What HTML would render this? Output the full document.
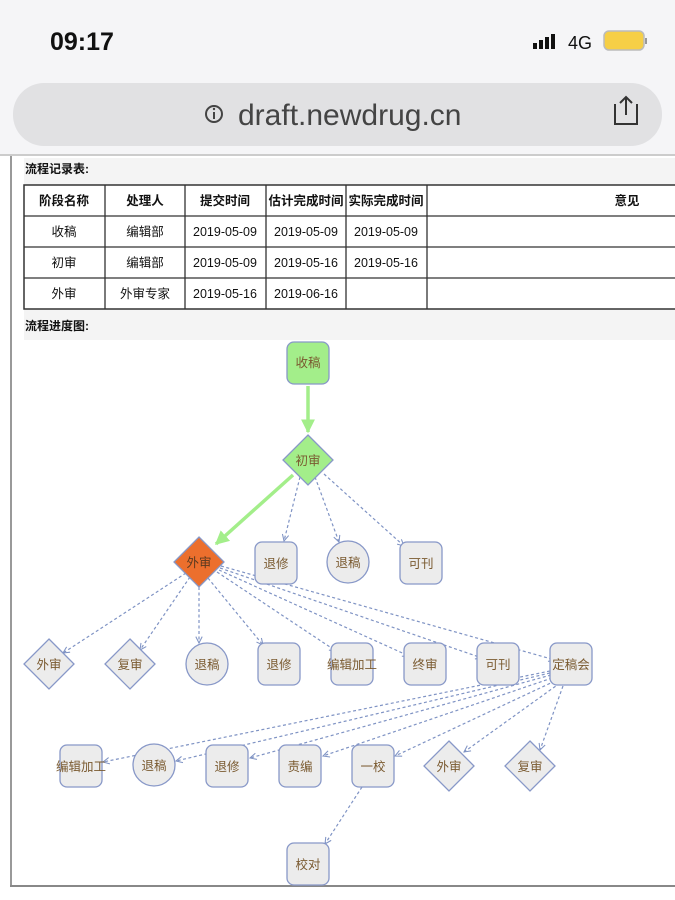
<!DOCTYPE html>
<html><head><meta charset="utf-8"><style>
html,body{margin:0;padding:0;width:675px;height:900px;overflow:hidden;background:#fff}
svg{display:block}
text{font-family:"Liberation Sans","Noto Sans CJK SC",sans-serif}
</style></head><body>
<svg width="675" height="900" viewBox="0 0 675 900" xmlns="http://www.w3.org/2000/svg">
<defs>
<marker id="a" viewBox="0 0 10 10" refX="9" refY="5" markerWidth="8" markerHeight="8" orient="auto" markerUnits="userSpaceOnUse"><polyline points="1,1 9,5 1,9" fill="none" stroke="#7f93c4" stroke-width="1.3"/></marker>
<marker id="g" viewBox="0 0 10 10" refX="9" refY="5" markerWidth="14" markerHeight="14" orient="auto" markerUnits="userSpaceOnUse"><polygon points="0,0 10,5 0,10" fill="#a3ee8a"/></marker>
</defs>
<rect width="675" height="155" fill="#f5f5f7"/>
<text x="50" y="50" font-size="25" font-weight="bold" fill="#111">09:17</text>
<rect x="533" y="43" width="4" height="6" fill="#111"/><rect x="539" y="40" width="4" height="9" fill="#111"/><rect x="545" y="37" width="4" height="12" fill="#111"/><rect x="551" y="34" width="4" height="15" fill="#111"/>
<text x="568" y="49" font-size="18" fill="#111">4G</text>
<rect x="604" y="31" width="40" height="19" rx="5" fill="#f6cf46" stroke="#bbb" stroke-width="1.5"/><rect x="645" y="38" width="2" height="6" fill="#999"/>
<rect x="13" y="83" width="649" height="63" rx="31" fill="#e1e1e3"/>
<circle cx="214" cy="114" r="8" fill="none" stroke="#444" stroke-width="2"/><rect x="213" y="112" width="2" height="7" fill="#444"/><circle cx="214" cy="109" r="1.2" fill="#444"/>
<text x="238" y="125" font-size="30" fill="#444">draft.newdrug.cn</text>
<path d="M615 104 v20 h22 v-20 M626 97 v18 M620 103 l6 -6 l6 6" fill="none" stroke="#333" stroke-width="2"/>
<rect x="0" y="154" width="675" height="2" fill="#ccc"/>
<rect x="12" y="156" width="663" height="730" fill="#fff"/>
<rect x="24" y="158" width="651" height="182" fill="#f4f4f4"/>
<rect x="10" y="156" width="2" height="731" fill="#999"/>
<rect x="10" y="885" width="665" height="2" fill="#888"/>
<text x="25" y="173" font-size="12" font-weight="bold" fill="#111">流程记录表:</text>
<text x="25" y="330" font-size="12" font-weight="bold" fill="#111">流程进度图:</text>
<g>
<rect x="24" y="185" width="660" height="124" fill="#fff" stroke="#333" stroke-width="1.5"/>
<g stroke="#333" stroke-width="1.3">
<line x1="24" y1="216" x2="675" y2="216"/><line x1="24" y1="247" x2="675" y2="247"/><line x1="24" y1="278" x2="675" y2="278"/>
<line x1="105" y1="185" x2="105" y2="309"/><line x1="185" y1="185" x2="185" y2="309"/><line x1="266" y1="185" x2="266" y2="309"/><line x1="346" y1="185" x2="346" y2="309"/><line x1="427" y1="185" x2="427" y2="309"/>
</g>
<g font-size="12.5" fill="#111" text-anchor="middle">
<g font-weight="bold"><text x="64" y="205">阶段名称</text><text x="145" y="205">处理人</text><text x="225" y="205">提交时间</text><text x="306" y="205">估计完成时间</text><text x="386" y="205">实际完成时间</text><text x="627" y="205">意见</text></g>
<text x="64" y="236">收稿</text><text x="145" y="236">编辑部</text><text x="225" y="236">2019-05-09</text><text x="306" y="236">2019-05-09</text><text x="386" y="236">2019-05-09</text>
<text x="64" y="267">初审</text><text x="145" y="267">编辑部</text><text x="225" y="267">2019-05-09</text><text x="306" y="267">2019-05-16</text><text x="386" y="267">2019-05-16</text>
<text x="64" y="298">外审</text><text x="145" y="298">外审专家</text><text x="225" y="298">2019-05-16</text><text x="306" y="298">2019-06-16</text>
</g>
</g>
<!-- edges -->
<g stroke="#a3ee8a" stroke-width="3.5" fill="none">
<line x1="308" y1="386" x2="308" y2="432" marker-end="url(#g)"/>
<line x1="293" y1="475" x2="216" y2="544" marker-end="url(#g)"/>
</g>
<g stroke="#7f93c4" stroke-width="1.2" stroke-dasharray="3,2.5" fill="none" marker-end="url(#a)">
<line x1="300" y1="477" x2="284" y2="541"/>
<line x1="315" y1="477" x2="339" y2="542"/>
<line x1="324" y1="474" x2="404" y2="546"/>
<line x1="186" y1="573" x2="63" y2="653"/>
<line x1="190" y1="577" x2="140" y2="650"/>
<line x1="199" y1="587" x2="199" y2="643"/>
<line x1="208" y1="578" x2="263" y2="645"/>
<line x1="217" y1="572" x2="336" y2="651"/>
<line x1="219" y1="570" x2="409" y2="656"/>
<line x1="220" y1="568" x2="482" y2="658"/>
<line x1="221" y1="566" x2="555" y2="660"/>
<line x1="550" y1="671" x2="103" y2="762"/>
<line x1="550" y1="673" x2="176" y2="761"/>
<line x1="551" y1="675" x2="250" y2="758"/>
<line x1="552" y1="678" x2="323" y2="756"/>
<line x1="555" y1="681" x2="395" y2="756"/>
<line x1="560" y1="683" x2="464" y2="752"/>
<line x1="563" y1="686" x2="540" y2="750"/>
<line x1="362" y1="787" x2="325" y2="844"/>
</g>
<!-- nodes -->
<g stroke="#8898c8" stroke-width="1.3" fill="#ececec">
<rect x="287" y="342" width="42" height="42" rx="7" fill="#a3ee8a"/>
<polygon points="308,435 333,460 308,485 283,460" fill="#a3ee8a"/>
<polygon points="199,537 224,562 199,587 174,562" fill="#ec6f2d"/>
<rect x="255" y="542" width="42" height="42" rx="7"/>
<ellipse cx="348" cy="562" rx="21" ry="21"/>
<rect x="400" y="542" width="42" height="42" rx="7"/>
<polygon points="49,639 74,664 49,689 24,664"/>
<polygon points="130,639 155,664 130,689 105,664"/>
<ellipse cx="207" cy="664" rx="21" ry="21"/>
<rect x="258" y="643" width="42" height="42" rx="7"/>
<rect x="331" y="643" width="42" height="42" rx="7"/>
<rect x="404" y="643" width="42" height="42" rx="7"/>
<rect x="477" y="643" width="42" height="42" rx="7"/>
<rect x="550" y="643" width="42" height="42" rx="7"/>
<rect x="60" y="745" width="42" height="42" rx="7"/>
<ellipse cx="154" cy="765" rx="21" ry="21"/>
<rect x="206" y="745" width="42" height="42" rx="7"/>
<rect x="279" y="745" width="42" height="42" rx="7"/>
<rect x="352" y="745" width="42" height="42" rx="7"/>
<polygon points="449,741 474,766 449,791 424,766"/>
<polygon points="530,741 555,766 530,791 505,766"/>
<rect x="287" y="843" width="42" height="42" rx="7"/>
</g>
<g font-size="12.5" fill="#7a5a30" text-anchor="middle">
<text x="308" y="367">收稿</text><text x="308" y="465">初审</text><text x="199" y="567" fill="#5a3a20">外审</text>
<text x="276" y="568">退修</text><text x="348" y="567">退稿</text><text x="421" y="568">可刊</text>
<text x="49" y="669">外审</text><text x="130" y="669">复审</text><text x="207" y="669">退稿</text><text x="279" y="669">退修</text><text x="352" y="669">编辑加工</text><text x="425" y="669">终审</text><text x="498" y="669">可刊</text><text x="571" y="669">定稿会</text>
<text x="81" y="771">编辑加工</text><text x="154" y="770">退稿</text><text x="227" y="771">退修</text><text x="300" y="771">责编</text><text x="373" y="771">一校</text><text x="449" y="771">外审</text><text x="530" y="771">复审</text>
<text x="308" y="869">校对</text>
</g>
</svg>
</body></html>
